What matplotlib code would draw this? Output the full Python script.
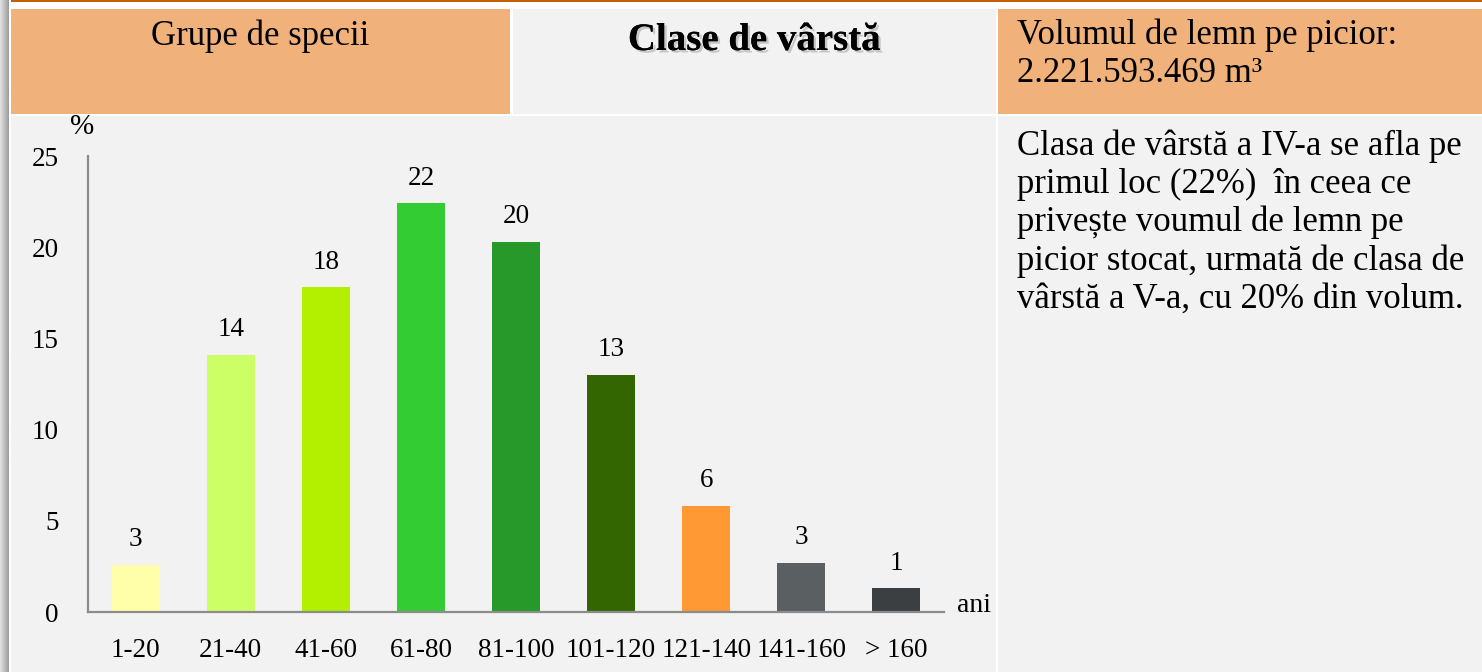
import matplotlib
matplotlib.use("Agg")
import matplotlib.pyplot as plt
import matplotlib.patches as mpatches
import matplotlib.patheffects as pe
import numpy as np

# ---- data ----
categories = ["1-20", "21-40", "41-60", "61-80", "81-100", "101-120", "121-140", "141-160", "> 160"]
values = [2.6, 14.1, 17.8, 22.4, 20.3, 13.0, 5.8, 2.7, 1.3]
value_labels = ["3", "14", "18", "22", "20", "13", "6", "3", "1"]
y_ticks = [0, 5, 10, 15, 20, 25]

header_left = "Grupe de specii"
header_mid = "Clase de vârstă"
header_right_1 = "Volumul de lemn pe picior:"
header_right_2 = "2.221.593.469 m³"
body_lines = [
    "Clasa de vârstă a IV-a se afla pe",
    "primul loc (22%)  în ceea ce",
    "privește voumul de lemn pe",
    "picior stocat, urmată de clasa de",
    "vârstă a V-a, cu 20% din volum.",
]

bar_colors = ["#ffffaa", "#ccff66", "#b2f000", "#33cc33", "#26992a",
              "#336600", "#ff9933", "#5a5f62", "#3b3f42"]

W, H = 1482, 672
FONT = "Liberation Serif"
ORANGE = "#f0b27a"
GRAY = "#f2f2f2"

fig = plt.figure(figsize=(W / 100, H / 100), dpi=100)
fig.patch.set_facecolor("white")

# background layout axes in pixel coordinates
bg = fig.add_axes([0, 0, 1, 1], zorder=0)
bg.set_xlim(0, W)
bg.set_ylim(H, 0)
bg.axis("off")

# left shadow gradient
grad = np.linspace(0.88, 0.62, 9).reshape(1, -1)
bg.imshow(np.repeat(grad, 2, axis=0), cmap="gray", vmin=0, vmax=1,
          extent=[0, 9, H, 0], aspect="auto", interpolation="bilinear")
# top orange line
bg.add_patch(mpatches.Rectangle((11, 0), W - 11, 1.6, color="#c0600a", lw=0))

# cells
cells = [
    (11, 9, 510 - 11, 114 - 9, ORANGE),
    (513, 9, 996 - 513, 114 - 9, GRAY),
    (998, 9, W - 998, 114 - 9, ORANGE),
    (11, 116, 996 - 11, H - 116, GRAY),
    (998, 116, W - 998, H - 116, GRAY),
]
for x, y, w, h, c in cells:
    bg.add_patch(mpatches.Rectangle((x, y), w, h, color=c, lw=0))

bg.text(260.5, 45, header_left, family=FONT, fontsize=25, ha="center", va="baseline")
bg.text(754.5, 50, header_mid, family=FONT, fontsize=28, fontweight="bold",
        ha="center", va="baseline",
        path_effects=[pe.withSimplePatchShadow(offset=(1.8, -1.8), shadow_rgbFace="#777777", alpha=0.35),
                      pe.Normal()])
bg.text(1017, 44, header_right_1, family=FONT, fontsize=25, ha="left", va="baseline")
bg.text(1017, 82, header_right_2, family=FONT, fontsize=25, ha="left", va="baseline")
for i, line in enumerate(body_lines):
    bg.text(1017, 155 + i * 38.2, line, family=FONT, fontsize=25, ha="left", va="baseline")

# chart axes
ax = fig.add_axes([88 / W, (H - 612) / H, (944 - 88) / W, (612 - 156) / H], zorder=1)
ax.patch.set_alpha(0)
x = np.arange(len(categories))
bars = ax.bar(x, values, width=0.505, color=bar_colors, zorder=2)
for xi, v, lab in zip(x, values, value_labels):
    ax.annotate(lab, (xi, v), xytext=(0, 13.5), textcoords="offset points",
                ha="center", va="baseline", family=FONT, fontsize=19.5)
ax.set_xlim(-0.5, len(categories) - 0.5)
ax.set_ylim(0, 25)
ax.set_yticks(y_ticks)
ax.set_xticks(x)
ax.set_xticklabels(categories)
for s in ["top", "right"]:
    ax.spines[s].set_visible(False)
for s in ["left", "bottom"]:
    ax.spines[s].set_color("#8c8c8c")
    ax.spines[s].set_linewidth(1.6)
ax.tick_params(axis="both", length=0, labelsize=19.5)
ax.tick_params(axis="y", pad=21)
ax.tick_params(axis="x", pad=19)
for t in ax.get_xticklabels() + ax.get_yticklabels():
    t.set_family(FONT)

bg.text(82, 134, "%", family=FONT, fontsize=21, ha="center", va="baseline")
bg.text(974, 612, "ani", family=FONT, fontsize=20, ha="center", va="baseline")

fig.savefig("out.png", dpi=100, facecolor="white")
